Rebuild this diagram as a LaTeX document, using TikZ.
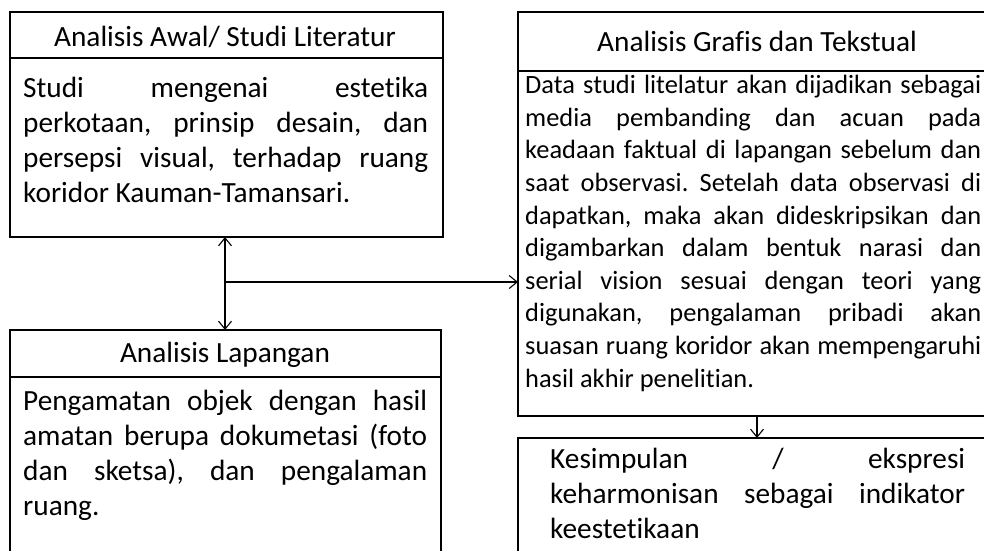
\documentclass[tikz,border=0pt]{standalone}
\usepackage{fontspec}
\setmainfont{Carlito}[Ligatures={NoCommon}]
\usetikzlibrary{arrows.meta}
\setlength\parindent{0pt}
\hyphenpenalty=10000
\exhyphenpenalty=10000
\tolerance=10000
\hbadness=10000
\frenchspacing
\begin{document}
\begin{tikzpicture}[x=1pt,y=-1pt,
  box/.style={draw=black, line width=1.3pt, inner sep=0pt, outer sep=0pt, anchor=north west},
  divline/.style={draw=black, line width=1.3pt},
  ttl/.style={anchor=base, inner sep=0pt, font=\fontsize{29.3}{35}\selectfont},
  bodyL/.style={anchor=north west, inner sep=0pt, align=justify, font=\fontsize{29.3}{35}\selectfont},
  bodyS/.style={anchor=north west, inner sep=0pt, align=justify, font=\fontsize{26.4}{32.6}\selectfont},
  tip/.tip={Straight Barb[length=8pt,width=13pt,line width=1.1pt]},
  arr/.style={draw=black, line width=1.1pt, -tip}]
\useasboundingbox (0,0) rectangle (984,550);
\clip (0,0) rectangle (984,550);

% boxes
\node[box, minimum width=433pt, minimum height=225pt] (A) at (10,12) {};
\node[box, minimum width=431pt, minimum height=240pt] (B) at (10,330) {};
\node[box, minimum width=478pt, minimum height=404pt] (C) at (518,12) {};
\node[box, minimum width=478pt, minimum height=140pt] (D) at (518,438) {};

% dividers
\draw[divline] (A.west |- 0,58) -- (A.east |- 0,58);
\draw[divline] (B.west |- 0,377) -- (B.east |- 0,377);
\draw[divline] (C.west |- 0,71) -- (C.east |- 0,71);

% titles
\node[ttl] (At) at (225,46) {Analisis Awal/ Studi Literatur};
\node[ttl] (Bt) at (225,362) {Analisis Lapangan};
\node[ttl] (Ct) at (757,51) {Analisis Grafis dan Tekstual};

% bodies
\node[bodyL, text width=405pt] (Ab) at (23,73) {\strut Studi mengenai estetika\linebreak perkotaan, prinsip desain, dan\linebreak persepsi visual, terhadap ruang\linebreak koridor Kauman-Tamansari.};
\node[bodyL, text width=404pt] (Bb) at (23,386) {\strut Pengamatan objek dengan hasil\linebreak amatan berupa dokumetasi (foto\linebreak dan sketsa), dan pengalaman\linebreak ruang.};
\node[bodyS, text width=456pt] (Cb) at (525,70.7) {\strut Data studi litelatur akan dijadikan sebagai\linebreak media pembanding dan acuan pada\linebreak keadaan faktual di lapangan sebelum dan\linebreak saat observasi. Setelah data observasi di\linebreak dapatkan, maka akan dideskripsikan dan\linebreak digambarkan dalam bentuk narasi dan\linebreak serial vision sesuai dengan teori yang\linebreak digunakan, pengalaman pribadi akan\linebreak suasan ruang koridor akan mempengaruhi\linebreak hasil akhir penelitian.};
\node[bodyL, text width=415pt] (Db) at (550,443.5) {\strut Kesimpulan / ekspresi\linebreak keharmonisan sebagai indikator\linebreak keestetikaan};

% connectors
\coordinate (J) at (225,282);
\draw[arr, tip-tip] (A.south -| J) -- (B.north -| J);
\draw[arr] (J) -- (C.west |- J);
\draw[arr] (C.south) -- (D.north);
\end{tikzpicture}
\end{document}
